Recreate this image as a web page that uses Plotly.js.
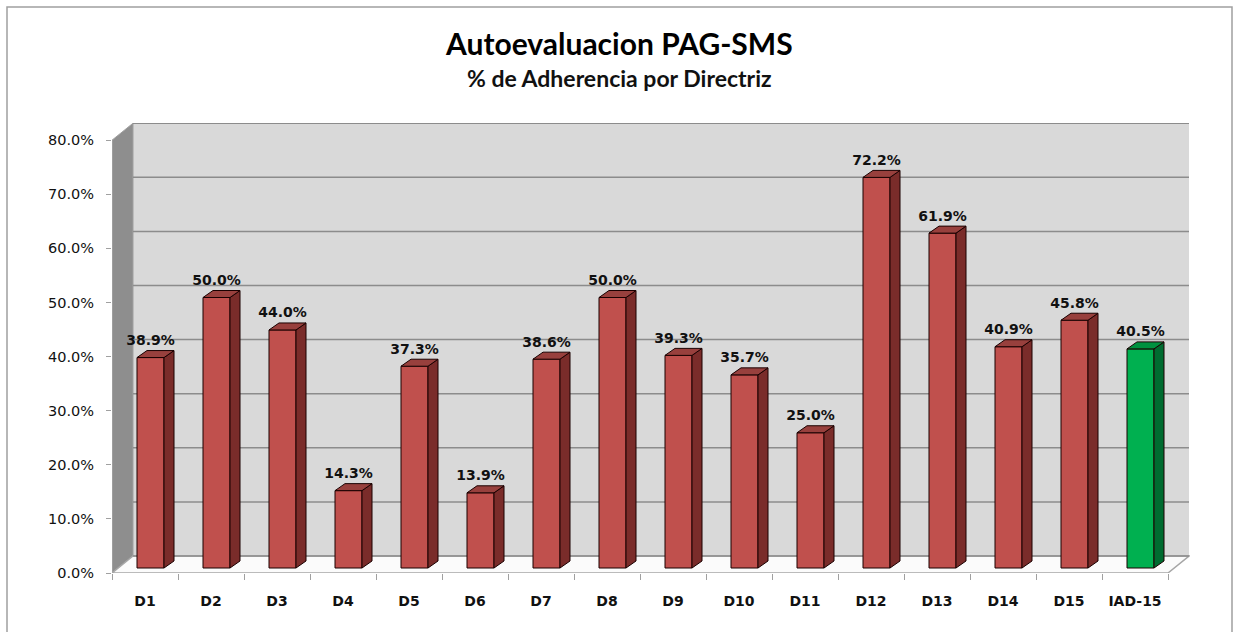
<!DOCTYPE html>
<html>
<head>
<meta charset="utf-8">
<script src="https://cdn.plot.ly/plotly-3.0.1.min.js"></script>
<style>html,body{margin:0;padding:0;background:#fff;}#chart{width:1236px;height:632px;}</style>
</head>
<body>
<div id="chart"></div>
<script>
// ---- data ----
const categories = ['D1','D2','D3','D4','D5','D6','D7','D8','D9','D10','D11','D12','D13','D14','D15','IAD-15'];
const adherence = [0.389,0.500,0.440,0.143,0.373,0.139,0.386,0.500,0.393,0.357,0.250,0.722,0.619,0.409,0.458,0.405];
const highlightCategory = 'IAD-15';
const yTickValues = [0,0.1,0.2,0.3,0.4,0.5,0.6,0.7,0.8];
const titleText = 'Autoevaluacion PAG-SMS';
const subtitleText = '% de Adherencia por Directriz';

// ---- geometry (pixels) ----
const W = 1236, H = 632;
const plotL = 112, plotR = 1190, plotT = 123, plotB = 573;
const pxPerCat = 66, pxPerUnit = 541;
const xMin = -0.5, xMax = xMin + (plotR - plotL) / pxPerCat;
const yMax = (plotB - plotT) / pxPerUnit;
const dxB = 21 / pxPerCat, dyB = 17 / pxPerUnit;      // wall depth
const barBase = 5 / pxPerUnit;                        // bars sit mid-depth
const barOffset = -8 / pxPerCat, barWidth = 27 / pxPerCat;
const ddx = 10 / pxPerCat, ddy = 7 / pxPerUnit;       // bar depth
const nCat = categories.length;

const colors = {
  red:   {front:'#c0504d', side:'#7a2c2a', top:'#98403d'},
  green: {front:'#00b050', side:'#006b30', top:'#00913f'}
};
const pal = categories.map(c => c === highlightCategory ? colors.green : colors.red);
const xs = categories.map((c, i) => i);

const traces = [];
// front faces
traces.push({
  type:'bar', x: xs, y: adherence, base: barBase, offset: barOffset, width: barWidth,
  marker:{color: pal.map(p => p.front), line:{color:'#1a0000', width:1}},
  hoverinfo:'skip', showlegend:false
});
// side and top faces
adherence.forEach((v, i) => {
  const L = i + barOffset, R = L + barWidth, B = barBase, T = v + barBase;
  traces.push({
    type:'scatter', mode:'lines', fill:'toself', fillcolor: pal[i].side,
    x:[R, R + ddx, R + ddx, R, R], y:[B, B + ddy, T + ddy, T, B],
    line:{color:'#1a0000', width:1}, hoverinfo:'skip', showlegend:false
  });
  traces.push({
    type:'scatter', mode:'lines', fill:'toself', fillcolor: pal[i].top,
    x:[L, R, R + ddx, L + ddx, L], y:[T, T, T + ddy, T + ddy, T],
    line:{color:'#1a0000', width:1}, hoverinfo:'skip', showlegend:false
  });
});
// data labels
traces.push({
  type:'scatter', mode:'text',
  x: xs.map(i => i + barOffset + barWidth / 2),
  y: adherence.map(v => v + barBase + ddy + 2 / pxPerUnit),
  text: adherence.map(v => (v * 100).toFixed(1) + '%'),
  textposition:'top center',
  textfont:{family:'DejaVu Sans', size:14, color:'#111', weight:'bold'},
  hoverinfo:'skip', showlegend:false, cliponaxis:false
});

// ---- shapes: 3D box ----
const wallLine = '#8c8c8c';
const shapes = [];
const yTop = yTickValues[yTickValues.length-1];
const xEnd = xMin + nCat;
// back wall
shapes.push({type:'rect', layer:'below', xref:'x', yref:'y',
  x0: xMin + dxB, x1: xEnd + dxB, y0: dyB, y1: yTop + dyB,
  fillcolor:'#d9d9d9', line:{width:0}});
// side wall
shapes.push({type:'path', layer:'below', xref:'x', yref:'y',
  path:`M ${xMin},0 L ${xMin},${yTop} L ${xMin+dxB},${yTop+dyB} L ${xMin+dxB},${dyB} Z`,
  fillcolor:'#8e8e8e', line:{color:'#a0a0a0', width:1}});
// floor
shapes.push({type:'path', layer:'below', xref:'x', yref:'y',
  path:`M ${xMin},0 L ${xEnd},0 L ${xEnd+dxB},${dyB} L ${xMin+dxB},${dyB} Z`,
  fillcolor:'#fbfbfb', line:{color:'#a6a6a6', width:1.5}});
// back-wall gridlines
yTickValues.forEach(v => {
  shapes.push({type:'line', layer:'below', xref:'x', yref:'y',
    x0: xMin + dxB, x1: xEnd + dxB, y0: v + dyB, y1: v + dyB,
    line:{color: wallLine, width:1.5}});
});
// front left axis line
shapes.push({type:'line', layer:'below', xref:'x', yref:'y',
  x0:xMin, x1:xMin, y0:0, y1:yTop, line:{color:'#a6a6a6', width:1}});
// outer chart border (paper coords computed from pixels)
const px2paperX = p => (p - plotL) / (plotR - plotL);
const px2paperY = p => (plotB - p) / (plotB - plotT);
shapes.push({type:'rect', xref:'paper', yref:'paper', layer:'below',
  x0: px2paperX(7), x1: px2paperX(1232), y0: px2paperY(645), y1: px2paperY(7),
  line:{color:'#a0a0a0', width:1.5}, fillcolor:'rgba(0,0,0,0)'});

const annotations = [
  {text:titleText, xref:'paper', yref:'paper', x:px2paperX(618.5), y:px2paperY(43),
   xanchor:'center', yanchor:'middle', showarrow:false,
   font:{family:'Lato', size:30, color:'#000', weight:'bold'}},
  {text:subtitleText, xref:'paper', yref:'paper', x:px2paperX(619), y:px2paperY(78),
   xanchor:'center', yanchor:'middle', showarrow:false,
   font:{family:'Lato', size:23, color:'#111', weight:'bold'}}
];

const layout = {
  width: W, height: H,
  margin:{l:plotL, r:W-plotR, t:plotT, b:H-plotB, pad:0},
  paper_bgcolor:'#fff', plot_bgcolor:'rgba(0,0,0,0)',
  showlegend:false,
  xaxis:{range:[xMin, xMax], tickmode:'array', tickvals: xs, ticktext: categories,
    ticks:'', showgrid:false, zeroline:false, showline:false, fixedrange:true,
    ticklabelstandoff: 18,
    tickfont:{family:'DejaVu Sans', size:14, color:'#111', weight:'bold'},
    minor:{tickmode:'array', tickvals: xs.map(i => i - 0.5).concat([xEnd]), ticks:'outside', ticklen:6, tickcolor:'#a0a0a0', tickwidth:1, showgrid:false}},
  yaxis:{range:[0, yMax], tickmode:'array', tickvals: yTickValues, tickformat:'.1%',
    ticks:'outside', ticklen:5, tickcolor:'#a0a0a0', showgrid:false, zeroline:false, showline:false,
    ticklabelstandoff: 9, fixedrange:true,
    tickfont:{family:'DejaVu Sans', size:14.5, color:'#111'}},
  shapes: shapes,
  annotations: annotations,
  bargap: 0
};

Plotly.newPlot('chart', traces, layout, {staticPlot:true, displayModeBar:false});
</script>
</body>
</html>
